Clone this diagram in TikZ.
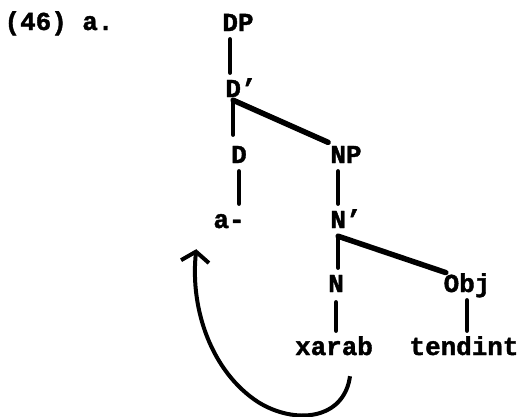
\documentclass[tikz,border=0pt]{standalone}
\usepackage{fontspec}
\setmainfont{Liberation Mono}[BoldFeatures={FakeBold=1.5}]
\usetikzlibrary{calc,arrows.meta}

\tikzset{
    cat/.style={font=\bfseries\fontsize{26}{26}\selectfont, inner sep=0pt, anchor=base,
                text height=16bp, text depth=0bp},
    branch/.style={line width=4.2bp, line cap=round, shorten <=8bp, shorten >=8bp},
    bar/.style={line width=5.5bp, line cap=round},
    move/.style={line width=4bp, -{Straight Barb[length=10bp,width=28bp]}},
}

\begin{document}
\begin{tikzpicture}[x=1bp, y=-1bp]
    \useasboundingbox (0,0) rectangle (521,416);

    % Numero dell'esempio
    \node[cat] (ex) at (59,30) {(46) a.};

    % Categorie dell'albero
    \node[cat] (dp)      at (238,31)  {DP};
    \node[cat] (dbar)    at (241,97)  {D'};
    \node[cat] (d)       at (239,163) {D};
    \node[cat] (np)      at (346,163) {NP};
    \node[cat] (a)       at (229,228) {a-};
    \node[cat] (nbar)    at (346,228) {N'};
    \node[cat] (n)       at (336,292) {N};
    \node[cat] (obj)     at (467,292) {Obj};
    \node[cat] (xarab)   at (334,355) {xarab};
    \node[cat] (tendint) at (464,355) {tendint};

    % Piedi dei nodi ramificati (sotto la prima lettera)
    \coordinate (dptop)    at ($(dp.south west)!.25!(dp.south east)$);
    \coordinate (dbarfoot) at ($(dbar.south west)!.25!(dbar.south east)+(0,3)$);
    \coordinate (nbarfoot) at ($(nbar.south west)!.25!(nbar.south east)+(0,8)$);

    % Rami verticali
    \draw[branch] (dptop) -- (dptop |- dbar.north);
    \draw[branch, shorten <=0bp, shorten >=12bp] (dbarfoot) -- (dbarfoot |- d.north);
    \draw[branch] (d.south) -- (d.south |- a.north);
    \draw[branch] ($(np.south west)!.25!(np.south east)$) -- ($(nbar.north west)!.25!(nbar.north east)$);
    \draw[branch, shorten <=0bp] (nbarfoot) -- (nbarfoot |- n.north);
    \draw[branch, shorten <=10bp] (n.south) -- (n.south |- xarab.north);
    \draw[branch] (obj.south) -- (obj.south |- tendint.north);

    % Rami obliqui
    \draw[bar, shorten >=11bp] (dbarfoot) -- ($(np.north west)!.25!(np.north east)$);
    \draw[bar, shorten >=10bp] (nbarfoot) -- ($(obj.north west)!.25!(obj.north east)$);

    % Movimento di N verso D
    \coordinate (movesrc) at ($(xarab.south)+(16,21)$);
    \coordinate (movetgt) at ($(a.south west)+(-17,21)$);
    \draw[move] (movesrc) .. controls (344,420) and (295,425) .. (258,402)
                          .. controls (212,372) and (190,310) .. (movetgt);
\end{tikzpicture}
\end{document}
